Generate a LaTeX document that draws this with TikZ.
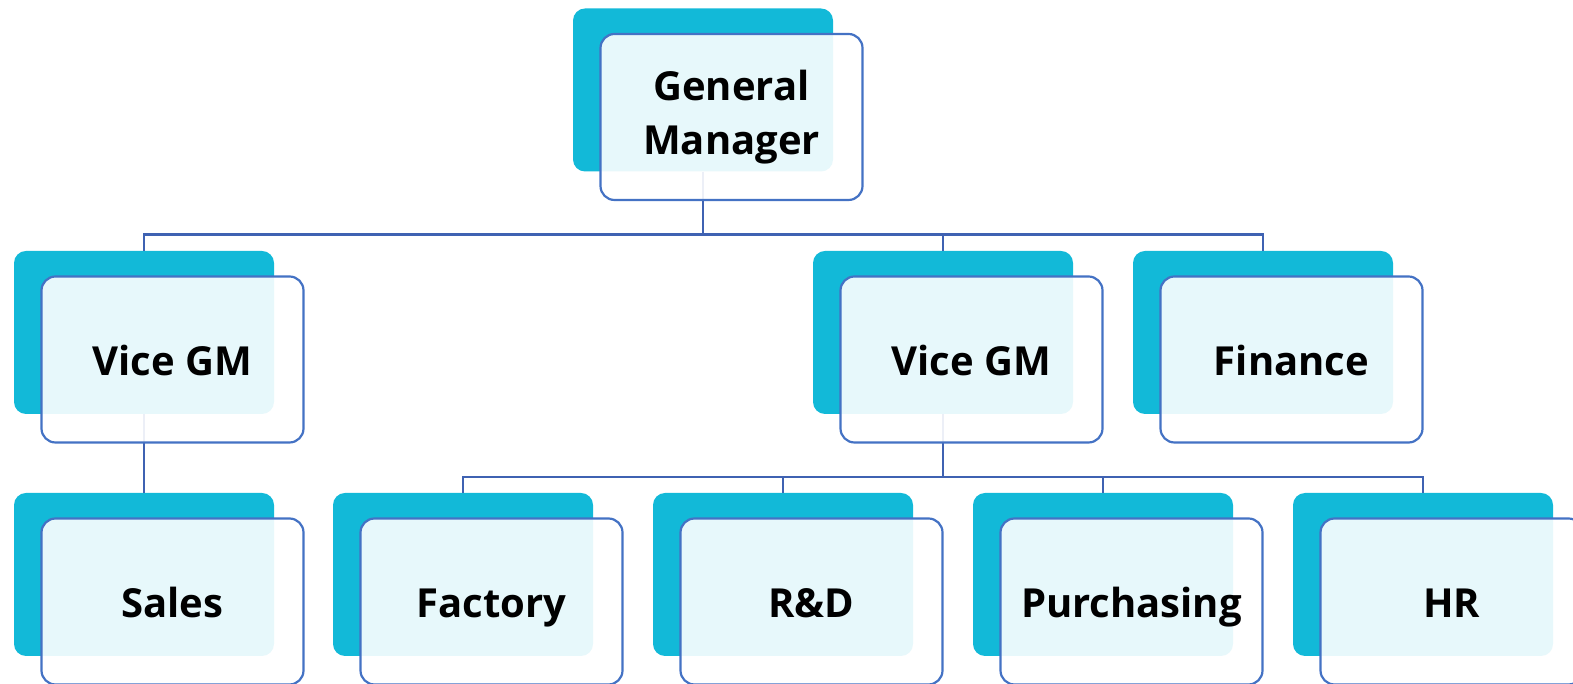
\documentclass[tikz,border=0pt]{standalone}
\usepackage{fontspec}
\setmainfont{Open Sans}
\usepackage{tikz}
\usetikzlibrary{positioning}

\definecolor{boxcyan}{RGB}{18,185,216}
\definecolor{boxline}{RGB}{68,114,196}
\definecolor{linkblue}{RGB}{63,98,178}

\begin{document}
\begin{tikzpicture}[x=1pt,y=1pt,
		back/.style={rectangle, rounded corners=12pt, fill=boxcyan, minimum width=260pt, minimum height=163pt, inner sep=0pt},
		front/.style={rectangle, rounded corners=14pt, draw=boxline, line width=2.2pt, fill=white, fill opacity=0.9, text opacity=1,
			minimum width=262pt, minimum height=166pt, inner sep=0pt, xshift=28.5pt, yshift=-27pt, align=center,
			font=\bfseries\fontsize{40}{54}\selectfont},
		one/.style={front, text height=32pt, text depth=0pt},
		link/.style={draw=linkblue, line width=2.6pt}]
	\useasboundingbox (0,0) rectangle (1573,684);

	% back boxes
	\node[back] (GMb) at (703,594) {};
	\node[back] (VGM1b) at (144,351.5) {};
	\node[back] (VGM2b) at (943,351.5) {};
	\node[back] (FINb) at (1263,351.5) {};
	\node[back] (SALb) at (144,109.5) {};
	\node[back] (FACb) at (463,109.5) {};
	\node[back] (RDb) at (783,109.5) {};
	\node[back] (PURb) at (1103,109.5) {};
	\node[back] (HRb) at (1423,109.5) {};

	% links
	\path[link] (GMb.south) -- ++(0,-63) coordinate (bus1);
	\path[link] (VGM1b.north) |- (bus1) -| (FINb.north);
	\path[link] (bus1) -| (VGM2b.north);
	\path[link] (VGM1b.south) -- (SALb.north);
	\path[link] (VGM2b.south) -- ++(0,-63) coordinate (bus2);
	\path[link] (FACb.north) |- (bus2) -| (HRb.north);
	\path[link] (bus2) -| (RDb.north);
	\path[link] (bus2) -| (PURb.north);

	% front boxes
	\node[front] (GM) at (GMb) {General\\Manager};
	\node[one] (VGM1) at (VGM1b) {Vice GM};
	\node[one] (VGM2) at (VGM2b) {Vice GM};
	\node[one] (FIN) at (FINb) {Finance};
	\node[one] (SAL) at (SALb) {Sales};
	\node[one] (FAC) at (FACb) {Factory};
	\node[one] (RD) at (RDb) {R\&D};
	\node[one] (PUR) at (PURb) {Purchasing};
	\node[one] (HR) at (HRb) {HR};
\end{tikzpicture}
\end{document}
